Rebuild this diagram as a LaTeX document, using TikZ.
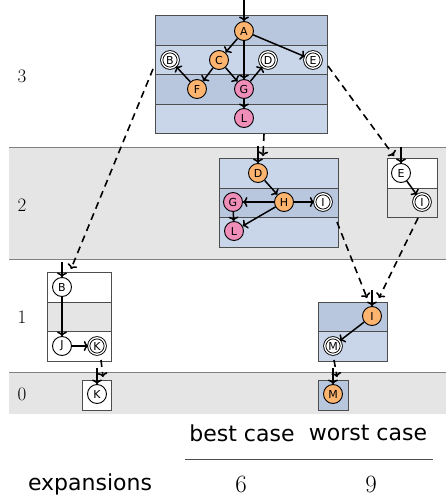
\documentclass[tikz,border=0pt]{standalone}
\usepackage{fontspec}
\setsansfont{DejaVu Sans}
\usetikzlibrary{arrows.meta}

\definecolor{rowdark}{RGB}{185,199,222}
\definecolor{rowlight}{RGB}{201,214,234}
\definecolor{bandgray}{RGB}{229,229,229}
\definecolor{boxline}{RGB}{77,77,77}
\definecolor{bandline}{RGB}{128,128,128}
\definecolor{openorange}{RGB}{253,180,111}
\definecolor{closedpink}{RGB}{238,142,185}

\begin{document}
\begin{tikzpicture}[x=1pt, y=-1pt]
    \tikzset{
        row/.style={draw=boxline, line width=0.8pt, inner sep=0pt, minimum height=29.6pt, anchor=north west},
        st/.style={circle, draw=black, line width=0.9pt, inner sep=0pt, minimum size=19pt, fill=white,
                   font=\sffamily\fontsize{11}{11}\selectfont},
        goal/.style={st, double, double distance=1.3pt, minimum size=16.5pt},
        openst/.style={st, fill=openorange},
        closedst/.style={st, fill=closedpink},
        edge/.style={-{To[length=4.5pt, width=10pt]}, line width=1.5pt},
        jump/.style={edge, line width=1.6pt, dash pattern=on 7pt off 5pt},
        lvl/.style={font=\fontsize{19}{21}\selectfont},
        tab/.style={font=\sffamily\fontsize{22}{26}\selectfont}
    }
    \useasboundingbox (0,0) rectangle (446,496);

    % 1. 定义关键坐标
    % 进入各方框的箭头起点
    \coordinate (In3) at (244, 0);
    \coordinate (In2a) at (258, 146);
    \coordinate (In2b) at (401, 147);
    \coordinate (In1a) at (62, 262);
    \coordinate (In1b) at (372, 290);
    \coordinate (In0a) at (97, 368);
    \coordinate (In0b) at (333, 368);

    % 虚线箭头的起点和终点
    \coordinate (J1s) at (153, 69);  \coordinate (J1e) at (71, 269);
    \coordinate (J2s) at (264, 134); \coordinate (J2e) at (263, 156);
    \coordinate (J3s) at (328, 66);  \coordinate (J3e) at (394, 156);
    \coordinate (J4s) at (337, 222); \coordinate (J4e) at (367, 298);
    \coordinate (J5s) at (418, 218); \coordinate (J5e) at (379, 298);
    \coordinate (J6s) at (101, 360); \coordinate (J6e) at (103, 377);
    \coordinate (J7s) at (334, 360); \coordinate (J7e) at (337, 377);

    % 2. 绘制层级背景带
    \fill[bandgray] (9, 147) rectangle (446, 259);
    \fill[bandgray] (9, 372) rectangle (446, 414);
    \draw[bandline, line width=0.8pt] (9, 147) -- (446, 147);
    \draw[bandline, line width=0.8pt] (9, 259) -- (446, 259);
    \draw[bandline, line width=0.8pt] (9, 372) -- (446, 372);

    % 层级编号
    \node[lvl] (lv3) at (22, 76) {3};
    \node[lvl] (lv2) at (22, 205) {2};
    \node[lvl] (lv1) at (22, 317) {1};
    \node[lvl] (lv0) at (22, 394) {0};

    % 3. 绘制方框 (每行一个节点)
    % 第3层
    \node[row, fill=rowdark, minimum width=172pt] (t3r1) at (155, 15) {};
    \node[row, fill=rowlight, minimum width=172pt] (t3r2) at (155, 44.6) {};
    \node[row, fill=rowdark, minimum width=172pt] (t3r3) at (155, 74.2) {};
    \node[row, fill=rowlight, minimum width=172pt] (t3r4) at (155, 103.8) {};
    % 第2层
    \node[row, fill=rowlight, minimum width=119pt] (t2r1) at (219, 158) {};
    \node[row, fill=rowdark, minimum width=119pt] (t2r2) at (219, 187.6) {};
    \node[row, fill=rowlight, minimum width=119pt] (t2r3) at (219, 217.2) {};
    \node[row, fill=white, minimum width=50pt] (u2r1) at (387, 158) {};
    \node[row, fill=bandgray, minimum width=50pt] (u2r2) at (387, 187.6) {};
    % 第1层
    \node[row, fill=white, minimum width=64pt] (t1r1) at (47, 272) {};
    \node[row, fill=bandgray, minimum width=64pt] (t1r2) at (47, 301.6) {};
    \node[row, fill=white, minimum width=64pt] (t1r3) at (47, 331.2) {};
    \node[row, fill=rowdark, minimum width=69pt] (u1r1) at (318, 301.6) {};
    \node[row, fill=rowlight, minimum width=69pt] (u1r2) at (318, 331.2) {};
    % 第0层
    \node[row, fill=white, minimum width=29pt] (t0r1) at (82, 380) {};
    \node[row, fill=rowdark, minimum width=30pt] (u0r1) at (318, 380) {};

    % 4. 绘制状态节点
    \node[openst] (a3) at (244, 31) {A};
    \node[goal] (b3) at (170, 60) {B};
    \node[openst] (c3) at (219, 60) {C};
    \node[goal] (d3) at (268, 60) {D};
    \node[goal] (e3) at (313, 60) {E};
    \node[openst] (f3) at (197, 89) {F};
    \node[closedst] (g3) at (244, 89) {G};
    \node[closedst] (l3) at (244, 118) {L};

    \node[openst] (d2) at (258, 173) {D};
    \node[closedst] (g2) at (233, 202) {G};
    \node[openst] (h2) at (284, 202) {H};
    \node[goal] (i2) at (323, 202) {I};
    \node[closedst] (l2) at (234, 231) {L};
    \node[st] (e2) at (401, 173) {E};
    \node[goal] (i2b) at (422, 202) {I};

    \node[st] (b1) at (62, 287) {B};
    \node[st] (j1) at (62, 346) {J};
    \node[goal] (k1) at (97, 346) {K};
    \node[openst] (i1) at (372, 316) {I};
    \node[goal] (m1) at (333, 346) {M};

    \node[st] (k0) at (97, 394) {K};
    \node[openst] (m0) at (333, 394) {M};

    % 5. 绘制边
    \draw[edge] (In3) -- (a3);
    \draw[edge] (a3) -- (c3);
    \draw[edge] (a3) -- (g3);
    \draw[edge] (a3) -- (e3);
    \draw[edge] (c3) -- (f3);
    \draw[edge] (c3) -- (g3);
    \draw[edge] (f3) -- (b3);
    \draw[edge] (g3) -- (d3);
    \draw[edge] (g3) -- (l3);

    \draw[edge] (In2a) -- (d2);
    \draw[edge] (d2) -- (h2);
    \draw[edge] (h2) -- (g2);
    \draw[edge] (h2) -- (i2);
    \draw[edge] (h2) -- (l2);
    \draw[edge] (g2) -- (l2);
    \draw[edge] (In2b) -- (e2);
    \draw[edge] (e2) -- (i2b);

    \draw[edge] (In1a) -- (b1);
    \draw[edge] (b1) -- (j1);
    \draw[edge] (j1) -- (k1);
    \draw[edge] (In1b) -- (i1);
    \draw[edge] (i1) -- (m1);

    \draw[edge] (In0a) -- (k0);
    \draw[edge] (In0b) -- (m0);

    % 6. 绘制层间虚线箭头
    \draw[jump] (J1s) -- (J1e);
    \draw[jump] (J2s) -- (J2e);
    \draw[jump] (J3s) -- (J3e);
    \draw[jump] (J4s) -- (J4e);
    \draw[jump] (J5s) -- (J5e);
    \draw[jump] (J6s) -- (J6e);
    \draw[jump] (J7s) -- (J7e);

    % 7. 表格
    \node[tab] (best) at (242, 433) {best case};
    \node[tab] (worst) at (368, 433) {worst case};
    \draw[boxline, line width=0.9pt] (185, 459) -- (433, 459);
    \node[tab] (exp) at (90, 484) {expansions};
    \node[font=\fontsize{25}{28}\selectfont] (nbest) at (241, 484) {$6$};
    \node[font=\fontsize{25}{28}\selectfont] (nworst) at (371, 484) {$9$};
\end{tikzpicture}
\end{document}
